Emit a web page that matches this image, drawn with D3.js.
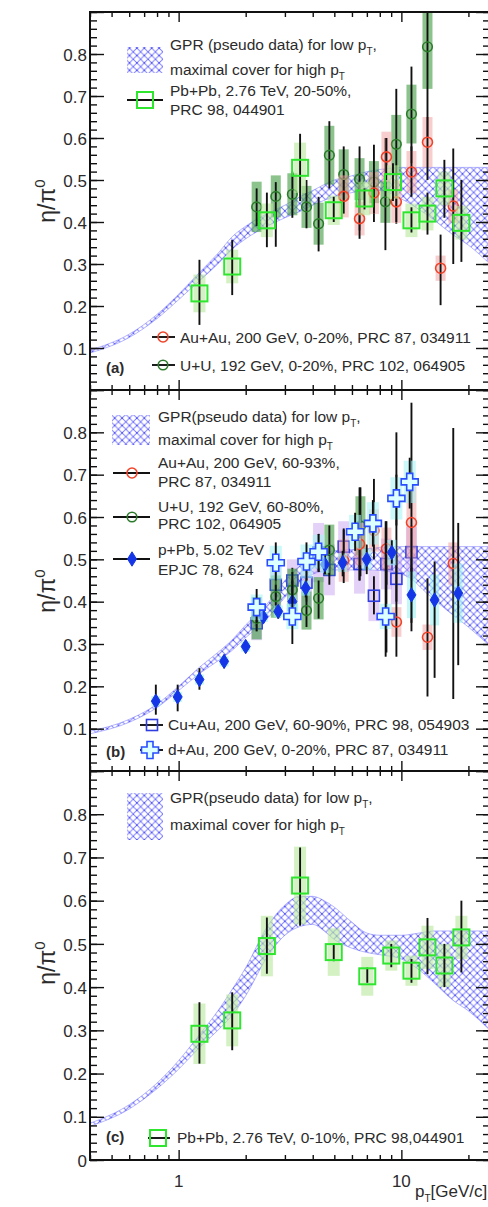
<!DOCTYPE html>
<meta charset="utf-8">
<script src="https://d3js.org/d3.v7.min.js"></script>
<style>
  body { margin: 0; background: #fff; }
  svg text { font-family: "Liberation Sans", Arial, Helvetica, sans-serif; fill: #2b2b2b; }
  .tick line { stroke: #111; stroke-width: 1.4px; }
</style>
<body>
<div id="chart"></div>
<script>

// ---------------- data ----------------
// rows: [pT, value, stat low, stat high, sys half-height]

// GPR bands: [pT, low, high]
var gprA = [[0.4,0.088,0.095],[0.6,0.125,0.133],[0.8,0.17,0.18],[1.0,0.215,0.228],[1.24,0.26,0.28],
  [1.5,0.30,0.325],[1.74,0.335,0.365],[2.0,0.36,0.39],[2.5,0.39,0.42],[3.0,0.41,0.44],[3.5,0.425,0.46],
  [4.0,0.44,0.475],[5.0,0.46,0.50],[6.0,0.47,0.51],[7.0,0.475,0.52],[8.0,0.475,0.525],[10,0.455,0.53],
  [12,0.43,0.53],[14,0.405,0.53],[17,0.37,0.53],[20,0.345,0.53],[25,0.30,0.53]];
var gprB = [[0.4,0.088,0.094],[0.6,0.115,0.122],[0.8,0.15,0.158],[1.0,0.19,0.2],[1.24,0.23,0.245],
  [1.5,0.26,0.28],[1.74,0.285,0.31],[2.0,0.315,0.345],[2.5,0.36,0.395],[3.0,0.41,0.45],[3.5,0.445,0.485],
  [4.0,0.465,0.505],[5.0,0.475,0.52],[7.0,0.475,0.525],[9.0,0.47,0.53],[11,0.455,0.53],[13,0.42,0.53],
  [16,0.38,0.53],[20,0.34,0.53],[25,0.295,0.53]];
var gprC = [[0.4,0.078,0.085],[0.6,0.118,0.128],[0.8,0.165,0.178],[1.0,0.21,0.23],[1.24,0.26,0.29],
  [1.5,0.30,0.345],[1.74,0.335,0.395],[2.0,0.38,0.445],[2.5,0.47,0.54],[3.0,0.52,0.59],[3.5,0.54,0.61],
  [4.0,0.545,0.61],[4.5,0.53,0.60],[5.0,0.51,0.585],[6.0,0.49,0.55],[7.0,0.48,0.525],[8.0,0.475,0.52],
  [10,0.465,0.52],[12,0.44,0.525],[14,0.41,0.53],[17,0.37,0.53],[20,0.345,0.53],[25,0.30,0.53]];

// panel (a)
var pbpb2050 = [[1.24,0.23,0.155,0.31,0.045],[1.74,0.294,0.226,0.357,0.04],[2.49,0.404,0.34,0.47,0.04],
  [3.51,0.529,0.45,0.61,0.06],[4.97,0.428,0.40,0.46,0.035],[6.83,0.456,0.43,0.48,0.04],
  [9.17,0.495,0.45,0.54,0.04],[11.1,0.404,0.375,0.435,0.04],[13.1,0.42,0.37,0.47,0.04],
  [15.6,0.48,0.41,0.548,0.04],[18.6,0.398,0.305,0.50,0.04]];
var uu020 = [[2.24,0.436,0.39,0.48,0.06],[2.73,0.461,0.341,0.495,0.05],[3.24,0.466,0.41,0.52,0.05],
  [3.75,0.436,0.385,0.50,0.05],[4.25,0.396,0.33,0.46,0.05],[4.75,0.559,0.48,0.64,0.07],
  [5.51,0.513,0.45,0.58,0.06],[6.49,0.502,0.38,0.58,0.05],[7.53,0.495,0.40,0.584,0.05],
  [8.48,0.448,0.333,0.60,0.05],[9.49,0.585,0.396,0.717,0.07],[11.1,0.657,0.54,0.77,0.07],
  [13.1,0.817,0.60,0.95,0.1]];
var auau020 = [[5.51,0.461,0.42,0.50,0.05],[6.49,0.408,0.36,0.455,0.04],[7.53,0.469,0.42,0.52,0.05],
  [8.57,0.555,0.50,0.60,0.06],[9.49,0.448,0.40,0.50,0.05],[11.1,0.519,0.46,0.58,0.05],
  [13.1,0.59,0.50,0.65,0.06],[15.0,0.29,0.202,0.37,0.03],[17.1,0.438,0.30,0.575,0.04]];

// panel (b)
var auau6093 = [[5.51,0.497,0.444,0.573,0.05],[6.49,0.536,0.45,0.67,0.05],[7.53,0.568,0.50,0.69,0.05],
  [8.57,0.525,0.28,0.59,0.05],[9.5,0.352,0.27,0.80,0.035],[11.1,0.587,0.33,0.87,0.085],
  [13.1,0.316,0.176,0.455,0.03],[17.1,0.49,0.17,0.81,0.05]];
var uu6080 = [[2.24,0.361,0.33,0.39,0.05],[2.73,0.412,0.38,0.44,0.05],[3.24,0.428,0.39,0.47,0.05],
  [3.75,0.379,0.34,0.43,0.045],[4.25,0.408,0.36,0.45,0.05],[4.75,0.522,0.46,0.58,0.06],
  [6.55,0.579,0.46,0.67,0.07]];
var ppb = [[0.79,0.165,0.133,0.204,0.012],[0.99,0.175,0.141,0.204,0.012],[1.24,0.216,0.192,0.243,0.012],
  [1.6,0.259,0.243,0.274,0.012],[2.0,0.294,0.28,0.305,0.012],[2.4,0.364,0.35,0.375,0.012],
  [2.8,0.377,0.36,0.39,0.014],[3.24,0.40,0.385,0.415,0.015],[3.72,0.432,0.41,0.45,0.018],
  [4.54,0.488,0.465,0.51,0.02],[5.45,0.492,0.46,0.52,0.022],[6.99,0.50,0.465,0.535,0.025],
  [9.06,0.516,0.49,0.545,0.03],[11.1,0.416,0.35,0.48,0.055],[14.1,0.404,0.22,0.495,0.06],
  [18.0,0.42,0.25,0.586,0.07]];
var cuau6090 = [[2.24,0.349,0.33,0.37,0.04],[2.73,0.44,0.41,0.47,0.05],[3.24,0.45,0.42,0.48,0.05],
  [3.75,0.445,0.40,0.49,0.06],[4.25,0.516,0.47,0.56,0.07],[4.75,0.475,0.44,0.51,0.06],
  [5.51,0.53,0.49,0.57,0.06],[6.49,0.489,0.45,0.53,0.07],[7.53,0.414,0.37,0.46,0.06],
  [8.57,0.489,0.44,0.54,0.06],[9.5,0.454,0.40,0.51,0.06],[11.1,0.517,0.45,0.58,0.06]];
var dau020 = [[2.24,0.387,0.35,0.43,0.03],[2.73,0.492,0.45,0.54,0.04],[3.24,0.365,0.30,0.45,0.03],
  [3.75,0.495,0.45,0.54,0.04],[4.25,0.518,0.47,0.56,0.04],[6.2,0.565,0.52,0.61,0.04],
  [7.45,0.585,0.53,0.64,0.05],[8.5,0.365,0.27,0.59,0.03],[9.5,0.644,0.58,0.70,0.05],
  [10.9,0.683,0.62,0.74,0.05]];

// panel (c)
var pbpb010 = [[1.24,0.292,0.223,0.365,0.07],[1.74,0.323,0.254,0.388,0.06],[2.49,0.495,0.431,0.561,0.07],
  [3.51,0.635,0.542,0.723,0.09],[4.97,0.481,0.46,0.50,0.055],[7.03,0.425,0.41,0.445,0.045],
  [9.01,0.473,0.446,0.50,0.035],[11.1,0.438,0.41,0.465,0.035],[13.1,0.492,0.43,0.56,0.05],
  [15.6,0.45,0.40,0.50,0.05],[18.6,0.515,0.434,0.60,0.05]];

var xMajor = [1, 10];
var xMinor = [0.4,0.5,0.6,0.7,0.8,0.9,2,3,4,5,6,7,8,9,20];
var yMajor = d3.range(0, 0.901, 0.1);
var yMinor = d3.range(0, 0.901, 0.02);

// ---------------- styles ----------------
var styles = {
  pbpb: {shape:"square", size:16, stroke:"#2ee62e", sw:2, fill:"none", box:"#b8e89c", boxOp:0.6, boxW:12},
  uu:   {shape:"circle", r:4.8, stroke:"#2b7a2b", sw:1.6, fill:"none", box:"#3f9b3f", boxOp:0.6, boxW:10},
  auau: {shape:"circle", r:5, stroke:"#f0432a", sw:1.6, fill:"none", box:"#f29b9b", boxOp:0.5, boxW:10},
  ppb:  {shape:"diamond", size:6, stroke:"#1536e6", sw:1, fill:"#1536e6", box:"#9cf2f2", boxOp:0.6, boxW:9},
  cuau: {shape:"square", size:11, stroke:"#2f3ee0", sw:1.6, fill:"none", box:"#c49af0", boxOp:0.45, boxW:11},
  dau:  {shape:"cross", size:8.5, stroke:"#2a4dff", sw:1.6, fill:"#dcffff", box:"#a8f4f4", boxOp:0.6, boxW:12}
};

var W = 488, H = 1207;
var x = d3.scaleLog().domain([0.4, 25]).range([90, 490]);

var svg = d3.select("#chart").append("svg")
    .attr("width", W).attr("height", H);

// blue cross-hatch used by the GPR bands
var defs = svg.append("defs");
var pat = defs.append("pattern").attr("id", "hatch")
    .attr("patternUnits", "userSpaceOnUse").attr("width", 7.4).attr("height", 7.4);
pat.append("path").attr("d", "M0,0L7.4,7.4M7.4,0L0,7.4")
    .attr("stroke", "#6464ff").attr("stroke-width", 0.95).attr("opacity", 0.85);
pat.append("circle").attr("cx", 3.7).attr("cy", 3.7).attr("r", 0.75).attr("fill", "#2222e0");
pat.append("circle").attr("cx", 0).attr("cy", 0).attr("r", 0.75).attr("fill", "#2222e0");

function marker(g, st, cx, cy) {
  if (st.shape === "circle") {
    g.append("circle").attr("cx", cx).attr("cy", cy).attr("r", st.r)
      .attr("fill", "none").attr("stroke", st.stroke).attr("stroke-width", st.sw);
  } else if (st.shape === "square") {
    g.append("rect").attr("x", cx - st.size / 2).attr("y", cy - st.size / 2)
      .attr("width", st.size).attr("height", st.size)
      .attr("fill", "none").attr("stroke", st.stroke).attr("stroke-width", st.sw);
  } else if (st.shape === "diamond") {
    var s = st.size;
    g.append("path").attr("d", "M" + cx + "," + (cy - s * 1.2) + "L" + (cx + s * 0.75) + "," + cy +
        "L" + cx + "," + (cy + s * 1.2) + "L" + (cx - s * 0.75) + "," + cy + "Z")
      .attr("fill", st.fill).attr("stroke", st.stroke).attr("stroke-width", st.sw);
  } else if (st.shape === "cross") {
    var a = st.size, b = 3;
    var pts = [[-b,-a],[b,-a],[b,-b],[a,-b],[a,b],[b,b],[b,a],[-b,a],[-b,b],[-a,b],[-a,-b],[-b,-b]];
    g.append("path").attr("d", "M" + pts.map(function(p){ return (cx + p[0]) + "," + (cy + p[1]); }).join("L") + "Z")
      .attr("fill", st.fill).attr("stroke", st.stroke).attr("stroke-width", st.sw);
  }
}

function drawSeries(g, y, data, st) {
  var s = g.append("g");
  // sys boxes, then stat bars, then markers
  data.forEach(function(d) {
    s.append("rect").attr("x", x(d[0]) - st.boxW / 2).attr("y", y(d[1] + d[4]))
      .attr("width", st.boxW).attr("height", y(d[1] - d[4]) - y(d[1] + d[4]))
      .attr("fill", st.box).attr("fill-opacity", st.boxOp);
  });
  data.forEach(function(d) {
    s.append("line").attr("x1", x(d[0])).attr("x2", x(d[0]))
      .attr("y1", y(d[2])).attr("y2", y(d[3]))
      .attr("stroke", "#111").attr("stroke-width", 1.9);
  });
  data.forEach(function(d) { marker(s, st, x(d[0]), y(d[1])); });
}

function text(g, tx, ty, str, sub, size) {
  var t = g.append("text").attr("x", tx).attr("y", ty).attr("font-size", size || 15.5);
  t.append("tspan").text(str);
  if (sub) {
    t.append("tspan").attr("font-size", 10).attr("dy", 5).text("T");
    if (sub.length > 1) t.append("tspan").attr("dy", -5).text(sub.slice(1));
  }
  return t;
}

function legendEntry(g, st, x1, x2, mx, ly) {
  g.append("line").attr("x1", x1).attr("x2", x2).attr("y1", ly).attr("y2", ly)
    .attr("stroke", "#111").attr("stroke-width", 1.9);
  marker(g, st, mx, ly);
}

var panels = [
  {top: 12, bottom: 390, band: gprA, label: "(a)", zero: false, titleY: 201},
  {top: 390, bottom: 771, band: gprB, label: "(b)", zero: false, titleY: 591},
  {top: 771, bottom: 1160, band: gprC, label: "(c)", zero: true, titleY: 963}
];

panels.forEach(function(p, i) {
  var y = d3.scaleLinear().domain([0, 0.9]).range([p.bottom, p.top]);
  p.y = y;
  var g = svg.append("g");
  p.g = g;

  defs.append("clipPath").attr("id", "clip" + i).append("rect")
    .attr("x", 90).attr("y", p.top).attr("width", 400).attr("height", p.bottom - p.top);
  var plot = g.append("g").attr("clip-path", "url(#clip" + i + ")");
  p.plot = plot;

  var area = d3.area().curve(d3.curveMonotoneX)
    .x(function(d){ return x(d[0]); })
    .y0(function(d){ return y(d[1]); })
    .y1(function(d){ return y(d[2]); });
  plot.append("path").datum(p.band).attr("d", area)
    .attr("fill", "url(#hatch)").attr("stroke", "#7d7dff").attr("stroke-width", 0.8).attr("stroke-opacity", 0.7);

  // axes, ticks inward on all four sides
  g.append("g").attr("transform", "translate(90,0)")
    .call(d3.axisLeft(y).tickValues(yMinor).tickSize(-7).tickFormat(""))
    .call(function(a){ a.select(".domain").remove(); });
  g.append("g").attr("transform", "translate(90,0)")
    .call(d3.axisLeft(y).tickValues(yMajor).tickSize(-14).tickPadding(3)
      .tickFormat(function(v){
        var r = Math.round(v * 10) / 10;
        if (r === 0) return p.zero ? "0" : "";
        if (r >= 0.9) return "";
        return d3.format(".1f")(r);
      }))
    .call(function(a){
      a.select(".domain").remove();
      a.selectAll("text").attr("font-size", 17).attr("fill", "#2b2b2b").attr("dy", "0.36em");
    });
  g.append("g").attr("transform", "translate(490,0)")
    .call(d3.axisRight(y).tickValues(yMinor).tickSize(-7).tickFormat(""))
    .call(function(a){ a.select(".domain").remove(); });
  g.append("g").attr("transform", "translate(490,0)")
    .call(d3.axisRight(y).tickValues(yMajor).tickSize(-14).tickFormat(""))
    .call(function(a){ a.select(".domain").remove(); });
  [[p.bottom, d3.axisBottom], [p.top, d3.axisTop]].forEach(function(e) {
    g.append("g").attr("transform", "translate(0," + e[0] + ")")
      .call(e[1](x).tickValues(xMinor).tickSize(-5).tickFormat(""))
      .call(function(a){ a.select(".domain").remove(); });
    g.append("g").attr("transform", "translate(0," + e[0] + ")")
      .call(e[1](x).tickValues(xMajor).tickSize(-10).tickFormat(""))
      .call(function(a){ a.select(".domain").remove(); });
  });
  g.append("rect").attr("x", 90).attr("y", p.top).attr("width", 400).attr("height", p.bottom - p.top)
    .attr("fill", "none").attr("stroke", "#111").attr("stroke-width", 2);

  // y title
  var tt = g.append("text").attr("transform", "translate(55," + p.titleY + ") rotate(-90)")
    .attr("text-anchor", "middle").attr("font-size", 23);
  tt.append("tspan").text("\u03b7/\u03c0");
  tt.append("tspan").attr("font-size", 15).attr("dy", -10).text("0");

  g.append("text").attr("x", 106).attr("y", 0).attr("font-size", 15).attr("font-weight", "bold")
    .attr("class", "plabel").text(p.label);
});

// ---------------- panel (a) ----------------
var pa = panels[0];
drawSeries(pa.plot, pa.y, uu020, styles.uu);
drawSeries(pa.plot, pa.y, auau020, styles.auau);
drawSeries(pa.plot, pa.y, pbpb2050, styles.pbpb);
pa.g.append("rect").attr("x", 127).attr("y", 47).attr("width", 36).attr("height", 26).attr("fill", "url(#hatch)");
text(pa.g, 170, 50, "GPR (pseudo data) for low p", "T,");
text(pa.g, 170, 75, "maximal cover for high p", "T");
legendEntry(pa.g, styles.pbpb, 127, 163, 145, 100);
text(pa.g, 170, 96, "Pb+Pb, 2.76 TeV, 20-50%,");
text(pa.g, 170, 115, "PRC 98, 044901");
legendEntry(pa.g, styles.auau, 152, 175, 163, 337);
text(pa.g, 180, 343, "Au+Au, 200 GeV, 0-20%, PRC 87, 034911");
legendEntry(pa.g, styles.uu, 152, 175, 163, 365);
text(pa.g, 180, 371, "U+U, 192 GeV, 0-20%, PRC 102, 064905");
pa.g.select(".plabel").attr("y", 373);

// ---------------- panel (b) ----------------
var pb = panels[1];
drawSeries(pb.plot, pb.y, cuau6090, styles.cuau);
drawSeries(pb.plot, pb.y, uu6080, styles.uu);
drawSeries(pb.plot, pb.y, auau6093, styles.auau);
drawSeries(pb.plot, pb.y, ppb, styles.ppb);
drawSeries(pb.plot, pb.y, dau020, styles.dau);
pb.g.append("rect").attr("x", 112).attr("y", 415).attr("width", 38).attr("height", 30).attr("fill", "url(#hatch)");
text(pb.g, 158, 422, "GPR(pseudo data) for low p", "T,");
text(pb.g, 158, 445, "maximal cover for high p", "T");
legendEntry(pb.g, styles.auau, 113, 150, 132, 473);
text(pb.g, 158, 468, "Au+Au, 200 GeV, 60-93%,");
text(pb.g, 158, 487, "PRC 87, 034911");
legendEntry(pb.g, styles.uu, 113, 150, 132, 517);
text(pb.g, 158, 512, "U+U, 192 GeV, 60-80%,");
text(pb.g, 158, 529, "PRC 102, 064905");
legendEntry(pb.g, styles.ppb, 113, 150, 132, 559);
text(pb.g, 158, 555, "p+Pb, 5.02 TeV");
text(pb.g, 158, 575, "EPJC 78, 624");
legendEntry(pb.g, styles.cuau, 140, 163, 152, 725);
text(pb.g, 168, 730, "Cu+Au, 200 GeV, 60-90%, PRC 98, 054903");
legendEntry(pb.g, styles.dau, 140, 163, 150, 750);
text(pb.g, 168, 755, "d+Au, 200 GeV, 0-20%, PRC 87, 034911");
pb.g.select(".plabel").attr("y", 757);

// ---------------- panel (c) ----------------
var pc = panels[2];
drawSeries(pc.plot, pc.y, pbpb010, styles.pbpb);
pc.g.append("rect").attr("x", 127).attr("y", 793).attr("width", 36).attr("height", 47).attr("fill", "url(#hatch)");
text(pc.g, 170, 803, "GPR(pseudo data) for low p", "T,");
text(pc.g, 170, 830, "maximal cover for high p", "T");
legendEntry(pc.g, styles.pbpb, 148, 170, 158, 1138);
text(pc.g, 177, 1143, "Pb+Pb, 2.76 TeV, 0-10%, PRC 98,044901");
pc.g.select(".plabel").attr("y", 1142);

// x tick labels and title
xMajor.forEach(function(v) {
  svg.append("text").attr("x", x(v)).attr("y", 1187).attr("text-anchor", "middle")
    .attr("font-size", 17).text(d3.format("d")(v));
});
text(svg, 415, 1197, "p", "T[GeV/c]", 17);

</script>
</body>
